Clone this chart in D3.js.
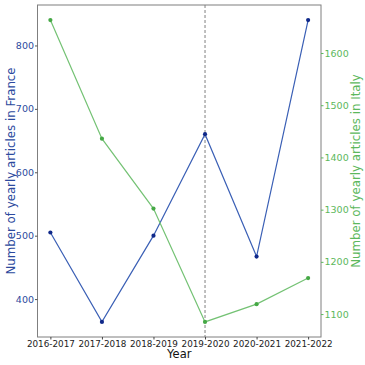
<!DOCTYPE html>
<html><head><meta charset="utf-8">
<script src="https://cdn.jsdelivr.net/npm/d3@7"></script>
<style>html,body{margin:0;padding:0;background:#fff;}svg{display:block;font-family:"DejaVu Sans",sans-serif;}</style>
</head><body><svg id="c" width="365" height="365"></svg>
<script>
const years = ["2016-2017","2017-2018","2018-2019","2019-2020","2020-2021","2021-2022"];
const france = [505, 364, 500, 660, 467, 840];
const italy = [1663, 1436, 1302, 1085, 1119, 1169];
const franceTicks = [400, 500, 600, 700, 800];
const italyTicks = [1100, 1200, 1300, 1400, 1500, 1600];
const markerYear = "2019-2020";

const m = {left: 37.5, right: 321, top: 5, bottom: 337};
const svg = d3.select("#c");

const x = d3.scalePoint().domain(years).range([m.left, m.right]).padding(0.25);
function padDomain(v){const lo=d3.min(v),hi=d3.max(v),p=(hi-lo)*0.05;return [lo-p,hi+p];}
const yL = d3.scaleLinear().domain(padDomain(france)).range([m.bottom, m.top]);
const yR = d3.scaleLinear().domain(padDomain(italy)).range([m.bottom, m.top]);

const blueLine = "#3a5fb5", blueMark = "#10298a", blueText = "#2c4a9e";
const greenLine = "#74c274", greenMark = "#45a845", greenText = "#5cb85c";

svg.append("line").attr("x1", x(markerYear)).attr("x2", x(markerYear))
  .attr("y1", m.top).attr("y2", m.bottom)
  .attr("stroke", "#808080").attr("stroke-width", 1).attr("stroke-dasharray", "3,2");

svg.append("path").datum(france)
  .attr("d", d3.line().x((d,i)=>x(years[i])).y(d=>yL(d)))
  .attr("fill","none").attr("stroke",blueLine).attr("stroke-width",1.2);
svg.selectAll(".fp").data(france).join("circle")
  .attr("cx",(d,i)=>x(years[i])).attr("cy",d=>yL(d)).attr("r",2.1).attr("fill",blueMark);

svg.append("path").datum(italy)
  .attr("d", d3.line().x((d,i)=>x(years[i])).y(d=>yR(d)))
  .attr("fill","none").attr("stroke",greenLine).attr("stroke-width",1.2);
svg.selectAll(".ip").data(italy).join("circle")
  .attr("cx",(d,i)=>x(years[i])).attr("cy",d=>yR(d)).attr("r",2.1).attr("fill",greenMark);

svg.append("rect").attr("x",m.left).attr("y",m.top).attr("width",m.right-m.left).attr("height",m.bottom-m.top)
  .attr("fill","none").attr("stroke","#7f7f7f").attr("stroke-width",1);

const gx = svg.append("g").attr("transform",`translate(0,${m.bottom})`)
  .call(d3.axisBottom(x).tickSize(2.5).tickPadding(1.5));
gx.selectAll("text").attr("fill","#222").style("font-size","8.8px").style("font-family","DejaVu Sans");
gx.selectAll("line").attr("stroke","#444");

const gl = svg.append("g").attr("transform",`translate(${m.left},0)`)
  .call(d3.axisLeft(yL).tickValues(franceTicks).tickFormat(d3.format("d")).tickSize(2.5).tickPadding(1));
gl.selectAll("text").attr("fill",blueText).style("font-size","9.5px").style("font-family","DejaVu Sans");
gl.selectAll("line").attr("stroke","#555");

const gr = svg.append("g").attr("transform",`translate(${m.right},0)`)
  .call(d3.axisRight(yR).tickValues(italyTicks).tickFormat(d3.format("d")).tickSize(2.5).tickPadding(1));
gr.selectAll("text").attr("fill",greenText).style("font-size","9.5px").style("font-family","DejaVu Sans");
gr.selectAll("line").attr("stroke",greenText);

[gx,gl,gr].forEach(g=>g.select(".domain").remove());

svg.append("text").attr("x",(m.left+m.right)/2).attr("y",358).attr("text-anchor","middle")
  .style("font-size","11.5px").attr("fill","#111").text("Year");
svg.append("text").attr("transform",`translate(14.5,${(m.top+m.bottom)/2}) rotate(-90)`)
  .attr("text-anchor","middle").style("font-size","11.8px").attr("fill",blueText)
  .text("Number of yearly articles in France");
svg.append("text").attr("transform",`translate(360,${(m.top+m.bottom)/2}) rotate(-90)`)
  .attr("text-anchor","middle").style("font-size","11.8px").attr("fill",greenText)
  .text("Number of yearly articles in Italy");
</script></body></html>
